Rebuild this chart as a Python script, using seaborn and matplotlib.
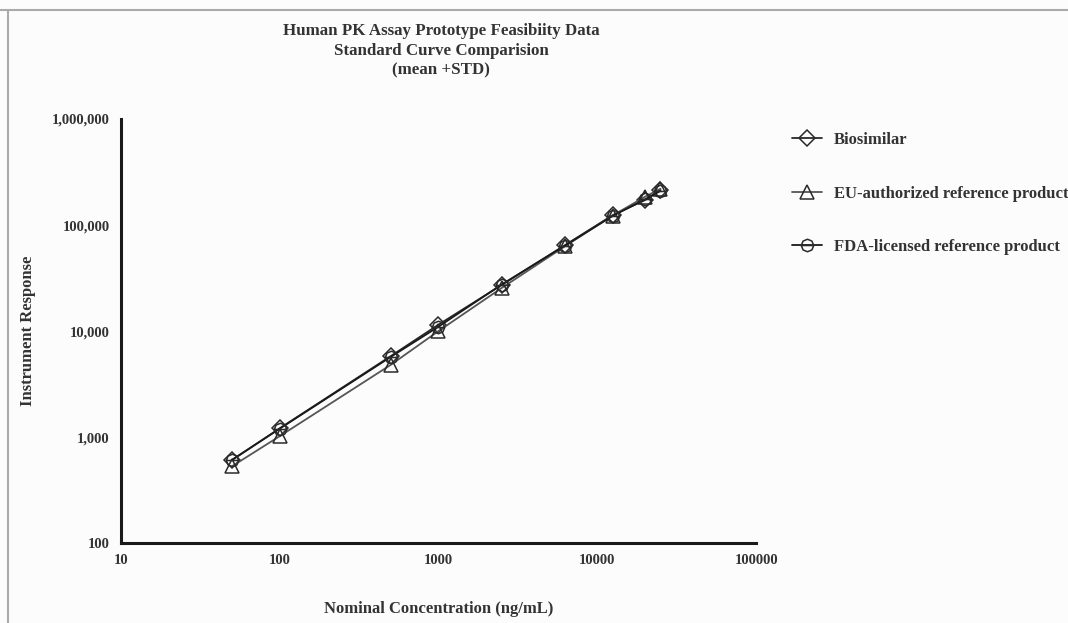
import numpy as np
import pandas as pd
import matplotlib.pyplot as plt
import seaborn as sns
from matplotlib.path import Path
from matplotlib.lines import Line2D
from matplotlib.ticker import FuncFormatter, FixedLocator, NullLocator

# data
conc = [50, 100, 500, 1000, 2500, 6250, 12500, 20000, 25000]
biosimilar = [605, 1210, 5800, 11500, 27200, 64500, 124000, 172000, 214000]
eu_ref = [530, 1020, 4800, 10000, 25500, 63000, 123000, 185000, 220000]
fda_ref = [610, 1200, 5700, 11000, 27500, 64000, 122000, 175000, 210000]
labels = ['Biosimilar', 'EU-authorized reference product', 'FDA-licensed reference product']

x_ticks = [10, 100, 1000, 10000, 100000]
y_ticks = [100, 1000, 10000, 100000, 1000000]

df = pd.DataFrame({
    'conc': conc * 3,
    'resp': biosimilar + eu_ref + fda_ref,
    'group': [labels[0]] * len(conc) + [labels[1]] * len(conc) + [labels[2]] * len(conc),
})

# octagon with a horizontal bar for the FDA series
octa = Path.unit_regular_polygon(8)
bar = Path([[-1.0, 0.0], [1.0, 0.0]], [Path.MOVETO, Path.LINETO])
fda_marker = Path.make_compound_path(octa, bar)

sns.set_style('white')
plt.rcParams['font.family'] = ['Liberation Serif', 'DejaVu Serif']
plt.rcParams['font.weight'] = 'bold'

fig = plt.figure(figsize=(10.68, 6.23), dpi=100)
fig.patch.set_facecolor('#fcfcfc')
ax = fig.add_axes([0.113, 0.128, 0.595, 0.681])
ax.set_facecolor('#fcfcfc')

styles = {
    labels[0]: dict(marker='D', color='#2a2a2a', ms=8),
    labels[1]: dict(marker='^', color='#555555', ms=9.5),
    labels[2]: dict(marker=fda_marker, color='#1a1a1a', ms=9),
}
for name, st in styles.items():
    sub = df[df['group'] == name]
    sns.lineplot(data=sub, x='conc', y='resp', ax=ax, label=name,
                 color=st['color'], lw=1.3, marker=st['marker'],
                 markersize=st['ms'], markerfacecolor='none',
                 markeredgecolor='#2a2a2a', markeredgewidth=1.1)

ax.set_xscale('log')
ax.set_yscale('log')
ax.set_xlim(10, 100000)
ax.set_ylim(100, 1000000)
ax.xaxis.set_major_locator(FixedLocator(x_ticks))
ax.yaxis.set_major_locator(FixedLocator(y_ticks))
ax.xaxis.set_minor_locator(NullLocator())
ax.yaxis.set_minor_locator(NullLocator())
ax.xaxis.set_major_formatter(FuncFormatter(lambda v, p: f'{int(v)}'))
ax.yaxis.set_major_formatter(FuncFormatter(lambda v, p: f'{int(v):,}'))

for s in ['top', 'right']:
    ax.spines[s].set_visible(False)
for s in ['left', 'bottom']:
    ax.spines[s].set_linewidth(2.2)
    ax.spines[s].set_color('#1a1a1a')
ax.tick_params(axis='both', which='major', direction='out', length=5, width=2,
               color='#1a1a1a', labelsize=10.5, labelcolor='#333333', pad=3)
for t in ax.get_xticklabels() + ax.get_yticklabels():
    t.set_fontweight('bold')

ax.set_xlabel('Nominal Concentration (ng/mL)', fontsize=12, fontweight='bold',
              color='#333333', labelpad=24)
ax.set_ylabel('Instrument Response', fontsize=12, fontweight='bold',
              color='#333333', labelpad=11)

fig.text(0.413, 0.918, 'Human PK Assay Prototype Feasibiity Data\nStandard Curve Comparision\n(mean +STD)',
         ha='center', va='center', fontsize=12.2, fontweight='bold', color='#333333',
         linespacing=1.3)

ax.legend(loc='upper left', bbox_to_anchor=(0.7276, 0.812), bbox_transform=fig.transFigure,
          frameon=False, labelspacing=2.25, handlelength=1.8,
          handletextpad=0.7, labelcolor='#333333',
          prop={'weight': 'bold', 'size': 12})

# scanned page border
fig.add_artist(Line2D([0, 1], [0.984, 0.984], transform=fig.transFigure, color='#aaaaaa', lw=1.5))
fig.add_artist(Line2D([0.0075, 0.0075], [0, 0.984], transform=fig.transFigure, color='#aaaaaa', lw=1.5))

fig.savefig('out.png', dpi=100, facecolor=fig.get_facecolor())
